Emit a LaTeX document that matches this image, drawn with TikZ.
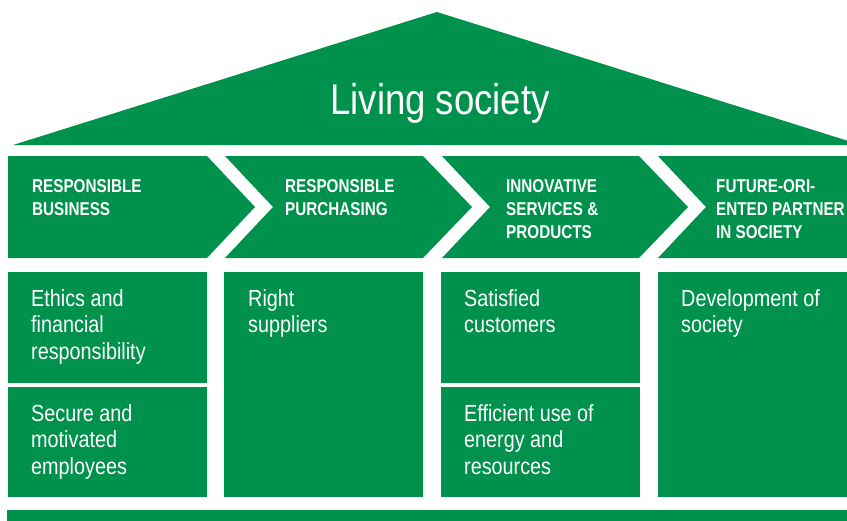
\documentclass[tikz,border=0pt]{standalone}
\usepackage{fontspec}
\setmainfont{Liberation Sans}
\newfontfamily\narrowfont[FakeStretch=0.85]{Liberation Sans}
\newfontfamily\headfont[FakeStretch=0.82]{Liberation Sans}
\usepackage{tikz}
\definecolor{pillargreen}{RGB}{0,146,76}

% multi-line nodes sit on the baseline of their last line
\tikzset{
	block/.style={fill=pillargreen,draw=none},
	heading/.style={text=white,anchor=base west,align=left,inner sep=0pt,
		font=\headfont\bfseries\fontsize{18.6}{23.3}\selectfont},
	value/.style={text=white,anchor=base west,align=left,inner sep=0pt,
		font=\narrowfont\fontsize{23.3}{26.7}\selectfont}
}

\begin{document}
\begin{tikzpicture}[x=1pt,y=-1pt]
	\useasboundingbox (0,0) rectangle (847,520);
	\clip (0,0) rectangle (847,520);

	% roof
	\fill[block] (13,145) -- (437,12) -- (861,145) -- cycle;
	\node[text=white,anchor=base,inner sep=0pt,
		font=\narrowfont\fontsize{43}{48}\selectfont] (living) at (440,114) {Living society};

	% chevrons
	\fill[block] (8,156) -- (207,156) -- (255,207) -- (207,258) -- (8,258) -- cycle;
	\fill[block] (225,156) -- (423,156) -- (472,207) -- (423,258) -- (225,258) -- (273,207) -- cycle;
	\fill[block] (442,156) -- (639,156) -- (688,207) -- (639,258) -- (442,258) -- (490,207) -- cycle;
	\fill[block] (658,156) -- (870,156) -- (870,258) -- (658,258) -- (706,207) -- cycle;

	\node[heading] (h_business) at (32,215.3) {RESPONSIBLE\\BUSINESS};
	\node[heading] (h_purchasing) at (285,215.3) {RESPONSIBLE\\PURCHASING};
	\node[heading] (h_innovative) at (506,238.6) {INNOVATIVE\\SERVICES \&\\PRODUCTS};
	\node[heading] (h_future) at (716,238.6) {FUTURE-ORI-\\ENTED PARTNER\\IN SOCIETY};

	% pillars
	\fill[block] (8,272) rectangle (207,383);
	\fill[block] (8,387) rectangle (207,497);
	\fill[block] (224,272) rectangle (423,497);
	\fill[block] (441,272) rectangle (640,383);
	\fill[block] (441,387) rectangle (640,497);
	\fill[block] (658,272) rectangle (870,497);

	\node[value] (v_ethics) at (31,359.4) {Ethics and\\financial\\responsibility};
	\node[value] (v_secure) at (31,474.4) {Secure and\\motivated\\employees};
	\node[value] (v_suppliers) at (248,332.7) {Right\\suppliers};
	\node[value] (v_customers) at (464,332.7) {Satisfied\\customers};
	\node[value] (v_energy) at (464,474.4) {Efficient use of\\energy and\\resources};
	\node[value] (v_society) at (681,332.7) {Development of\\society};

	% floor
	\fill[block] (7,510) rectangle (870,525);
\end{tikzpicture}
\end{document}
